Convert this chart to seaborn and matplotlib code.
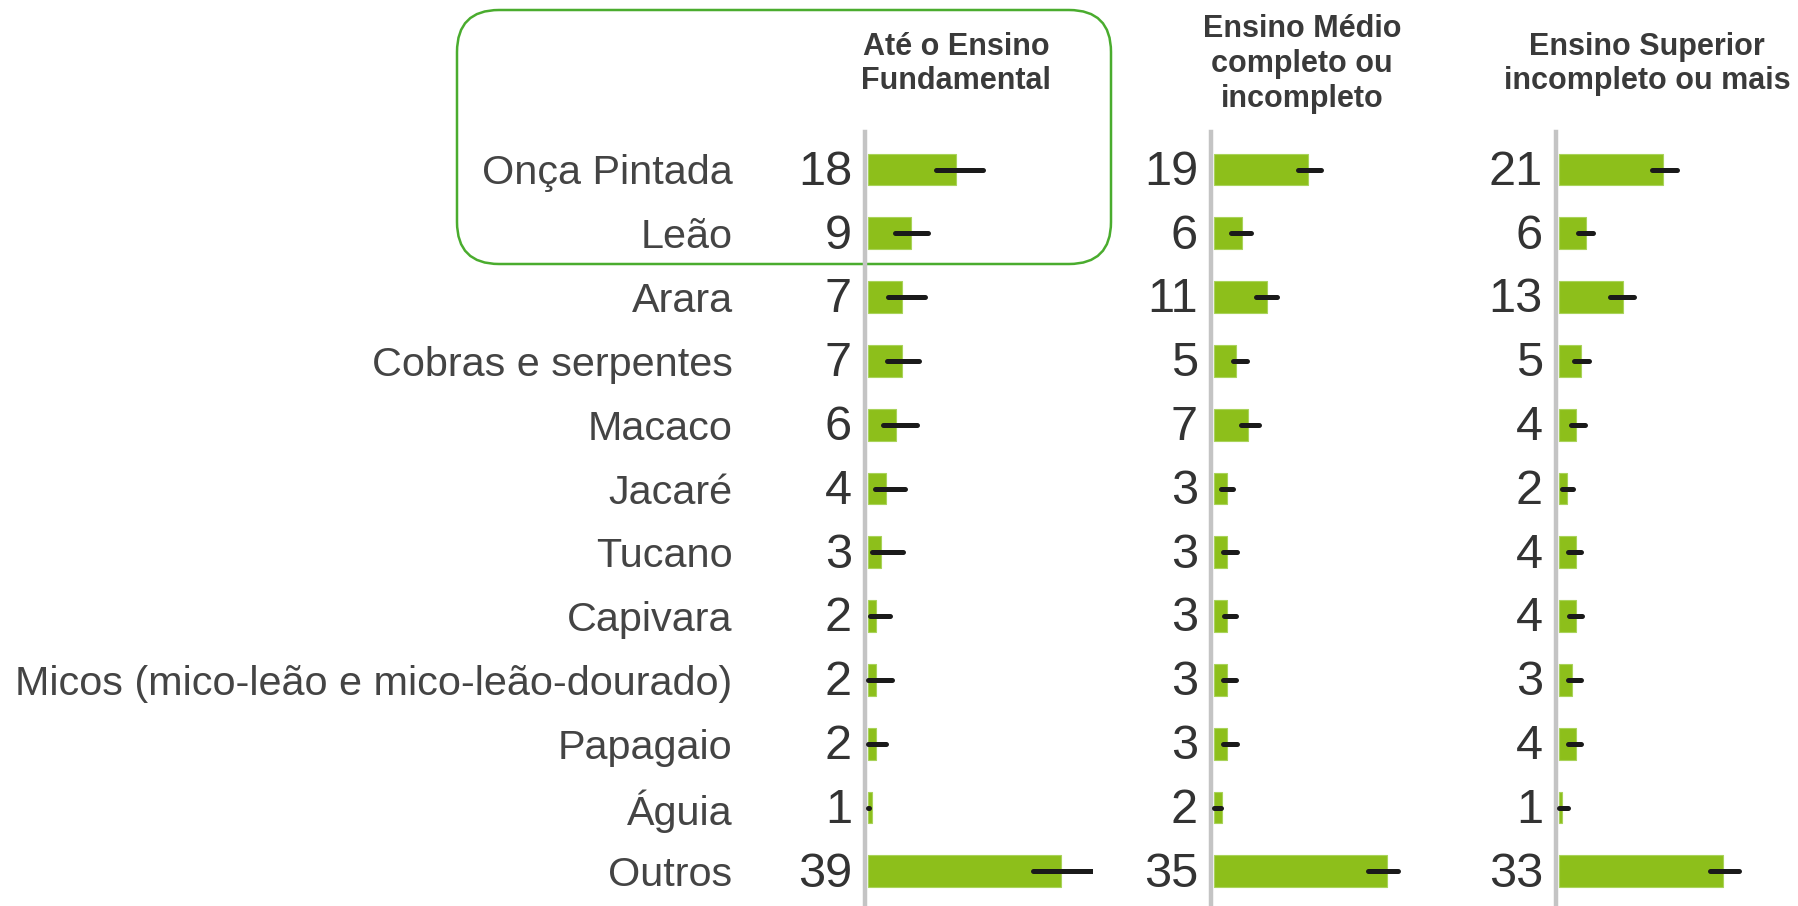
import matplotlib.pyplot as plt
import numpy as np
import pandas as pd
import seaborn as sns
from matplotlib.patches import FancyBboxPatch

sns.set_theme(style="white")
plt.rcParams["font.family"] = ["Liberation Sans", "DejaVu Sans"]

categories = [
    "Onça Pintada", "Leão", "Arara", "Cobras e serpentes", "Macaco", "Jacaré",
    "Tucano", "Capivara", "Micos (mico-leão e mico-leão-dourado)", "Papagaio",
    "Águia", "Outros",
]
levels = [
    "Até o Ensino\nFundamental",
    "Ensino Médio\ncompleto ou\nincompleto",
    "Ensino Superior\nincompleto ou mais",
]

# percentages and confidence bounds per schooling level
fundamental = [18.0, 8.8, 7.0, 7.0, 5.65, 3.67, 2.72, 1.7, 1.7, 1.7, 0.75, 39.4]
fundamental_lo = [13.8, 5.5, 4.15, 3.8, 3.1, 1.45, 0.8, 0.4, 0.1, 0.0, 0.0, 33.6]
fundamental_hi = [23.5, 12.2, 11.6, 10.5, 10.1, 7.5, 7.1, 4.6, 4.9, 3.7, 0.3, 46.0]

medio = [19.2, 5.7, 10.8, 4.55, 6.9, 2.65, 2.65, 2.65, 2.65, 2.65, 1.6, 35.4]
medio_lo = [17.2, 3.5, 8.6, 3.8, 5.5, 1.45, 1.8, 2.0, 1.8, 1.8, 0.0, 31.4]
medio_hi = [21.8, 7.5, 12.9, 6.8, 9.1, 3.9, 4.7, 4.6, 4.6, 4.7, 1.4, 37.6]

superior = [21.2, 5.6, 13.0, 4.55, 3.55, 1.6, 3.55, 3.55, 2.65, 3.55, 0.7, 33.4]
superior_lo = [19.0, 3.9, 10.5, 3.1, 2.5, 0.7, 1.8, 2.0, 1.8, 1.8, 0.0, 30.8]
superior_hi = [24.1, 6.9, 15.3, 6.2, 5.3, 2.8, 4.5, 4.8, 4.5, 4.6, 1.8, 36.7]

panels = [
    (fundamental, fundamental_lo, fundamental_hi),
    (medio, medio_lo, medio_hi),
    (superior, superior_lo, superior_hi),
]

W, H = 1798, 906
fig = plt.figure(figsize=(W / 100, H / 100), dpi=100)

# overlay in pixel coordinates for the highlight box
bg = fig.add_axes([0, 0, 1, 1])
bg.set_xlim(0, W)
bg.set_ylim(H, 0)
bg.axis("off")
bg.add_patch(
    FancyBboxPatch(
        (457, 10), 654, 254,
        boxstyle="round,pad=0,rounding_size=42",
        fill=False, edgecolor="#4aac2e", linewidth=1.8,
    )
)

BAR = "#8dbf1b"
px_per_unit = 4.9
x0 = -0.7
x1 = 46
ax_top, ax_bot = 132, 906
row0, step = 169.5, 63.8
axes_left = [864.5, 1210.5, 1555.5]

for i, (vals, lo, hi) in enumerate(panels):
    df = pd.DataFrame({"animal": categories, "pct": vals})
    left = axes_left[i]
    width = (x1 - x0) * px_per_unit
    ax = fig.add_axes([left / W, (H - ax_bot) / H, width / W, (ax_bot - ax_top) / H])
    ax.patch.set_visible(False)
    sns.barplot(
        data=df, x="pct", y="animal", ax=ax, color=BAR, saturation=1,
        width=0.5, errorbar=None, edgecolor="#a9d35a", linewidth=0.8,
    )
    ypos = np.arange(len(categories))
    ax.hlines(ypos, lo, hi, colors="#1a1a1a", linewidth=3.6,
              capstyle="round", zorder=5)
    ax.set_xlim(x0, x1)
    ax.set_ylim(11 + (ax_bot - (row0 + 11 * step)) / step, -(row0 - ax_top) / step)
    ax.set_xlabel("")
    ax.set_ylabel("")
    ax.set_xticks([])
    for side in ["top", "right", "bottom"]:
        ax.spines[side].set_visible(False)
    ax.spines["left"].set_color("#c4c4c4")
    ax.spines["left"].set_linewidth(3.2)
    if i == 0:
        ax.tick_params(axis="y", length=0, pad=95, labelsize=29.8, labelcolor="#444444")
    else:
        ax.set_yticklabels([])
        ax.tick_params(axis="y", length=0)
    for y, v in zip(ypos, vals):
        ax.annotate(f"{v:.0f}", xy=(0, y), xycoords=("axes fraction", "data"),
                    xytext=(-9, -2), textcoords="offset points",
                    ha="right", va="center", fontsize=35, color="#333333")
    ax.text(0.40, 1 + 68 / (ax_bot - ax_top), levels[i], transform=ax.transAxes,
            ha="center", va="center", fontsize=22, fontweight="bold",
            color="#3a3a3a", linespacing=1.2)

fig.savefig("out.png", dpi=100)
